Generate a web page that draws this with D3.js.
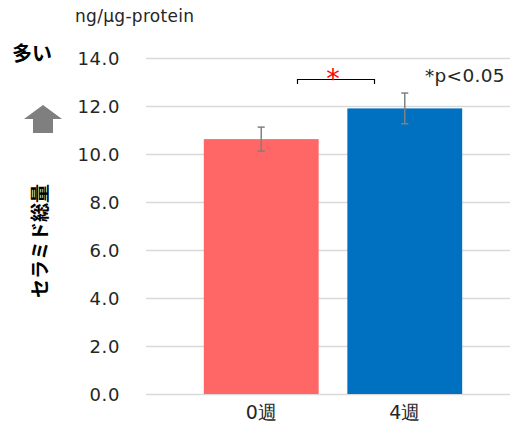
<!DOCTYPE html>
<html><head><meta charset="utf-8">
<script src="https://cdn.jsdelivr.net/npm/d3@7"></script>
<style>
html,body{margin:0;padding:0;background:#fff;}
svg{display:block;}
</style></head>
<body>
<svg id="chart" width="511" height="425"></svg>
<script>
const categories = ["0週", "4週"];
const values = [10.62, 11.9];
const errors = [0.5, 0.64];
const colors = ["#FF6666", "#0070C0"];
const yTicks = [0, 2, 4, 6, 8, 10, 12, 14];
const unitLabel = "ng/μg-protein";
const yTitle = "セラミド総量";
const moreLabel = "多い";
const sigLabel = "*p<0.05";

const svg = d3.select("#chart");
const latin = "'DejaVu Sans', Verdana, sans-serif";
const jp = "'Noto Sans CJK JP', sans-serif";

const y = d3.scaleLinear().domain([0, 14]).range([394, 58]);
const x = d3.scaleBand().domain(categories).range([151, 515]).paddingInner(0.2).paddingOuter(0.368);

// gridlines
svg.append("g").selectAll("line").data(yTicks).join("line")
  .attr("x1", 146).attr("x2", 510)
  .attr("y1", d => Math.round(y(d)) + 0.5).attr("y2", d => Math.round(y(d)) + 0.5)
  .attr("stroke", "#d9d9d9").attr("stroke-width", 1.5);

// y axis labels
const yAxis = d3.axisLeft(y).tickValues(yTicks).tickFormat(d3.format(".1f")).tickSize(0).tickPadding(0);
const ga = svg.append("g").attr("transform", "translate(120,0)").call(yAxis);
ga.select(".domain").remove();
ga.selectAll("text").attr("font-family", latin).attr("font-size", 18).attr("letter-spacing", 0.6)
  .attr("fill", "#262626").attr("dy", "0.35em");

// bars
svg.append("g").selectAll("rect").data(categories).join("rect")
  .attr("x", d => x(d)).attr("width", x.bandwidth())
  .attr("y", (d, i) => y(values[i])).attr("height", (d, i) => y(0) - y(values[i]))
  .attr("fill", (d, i) => colors[i]);

// error bars
const eg = svg.append("g").attr("stroke", "#808080").attr("stroke-width", 1.5);
categories.forEach((c, i) => {
  const cx = x(c) + x.bandwidth() / 2;
  const t = y(values[i] + errors[i]), b = y(values[i] - errors[i]);
  eg.append("line").attr("x1", cx).attr("x2", cx).attr("y1", t).attr("y2", b);
  eg.append("line").attr("x1", cx - 3.5).attr("x2", cx + 3.5).attr("y1", t).attr("y2", t);
  eg.append("line").attr("x1", cx - 3.5).attr("x2", cx + 3.5).attr("y1", b).attr("y2", b);
});

// x labels
svg.append("g").selectAll("text").data(categories).join("text")
  .attr("x", d => x(d) + x.bandwidth() / 2).attr("y", 419)
  .attr("text-anchor", "middle").attr("font-family", latin).attr("font-size", 19).attr("fill", "#262626")
  .text(d => d);

// unit label
svg.append("text").attr("x", 75).attr("y", 22).attr("font-family", latin).attr("font-size", 17)
  .attr("letter-spacing", 0.3).attr("fill", "#262626").text(unitLabel);

// 多い
svg.append("text").attr("x", 12).attr("y", 61).attr("font-family", jp).attr("font-weight", "bold")
  .attr("font-size", 20).attr("fill", "#000").text(moreLabel);

// arrow
svg.append("path").attr("d", "M43,105 L62,119 L53,119 L53,133 L33,133 L33,119 L24,119 Z").attr("fill", "#7f7f7f");

// vertical title
svg.append("text").attr("transform", "translate(47,241) rotate(-90)")
  .attr("text-anchor", "middle").attr("font-family", jp).attr("font-weight", "bold")
  .attr("font-size", 19).attr("fill", "#000").text(yTitle);

// significance bracket
const x0c = x(categories[0]) + x.bandwidth() / 2, x1c = x(categories[1]) + x.bandwidth() / 2;
svg.append("path").attr("d", `M297.5,84 L297.5,79.5 L374.5,79.5 L374.5,84`)
  .attr("fill", "none").attr("stroke", "#000").attr("stroke-width", 1.2);
svg.append("text").attr("x", (x0c + x1c) / 2).attr("y", 88).attr("text-anchor", "middle")
  .attr("font-family", latin).attr("font-size", 27).attr("fill", "#FF0000").text("*");

svg.append("text").attr("x", 425).attr("y", 82).attr("font-family", latin).attr("font-size", 18.5)
  .attr("letter-spacing", 0.3).attr("fill", "#262626").text(sigLabel);
</script>
</body></html>
